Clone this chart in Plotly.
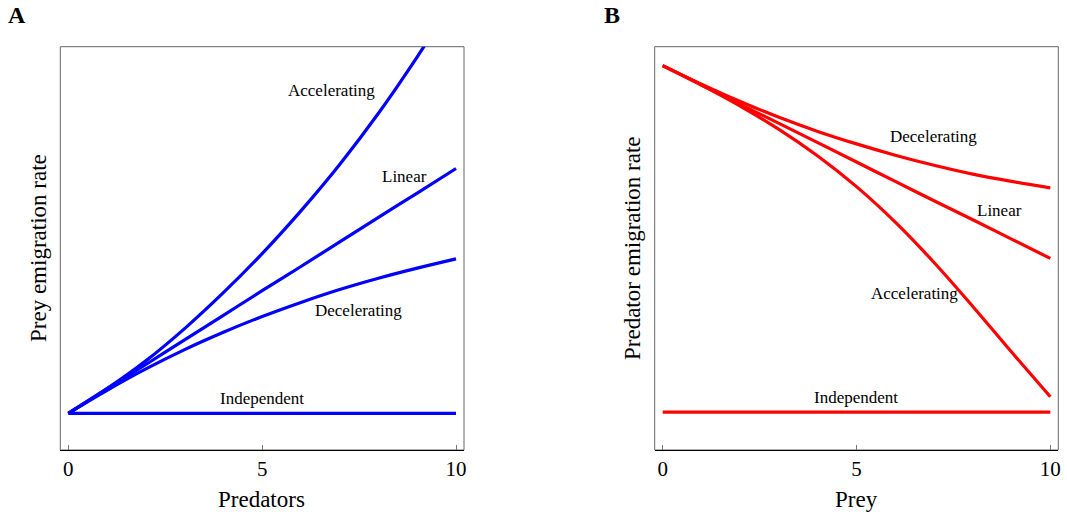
import plotly.graph_objects as go

# ---- data ----
x_vals = [0, 1, 2, 3, 4, 5, 6, 7, 8, 9, 10]

prey_accelerating = [0.91, 1.52, 2.21, 3.01, 3.90, 4.87, 5.93, 7.08, 8.35, 9.75, 11.25]
prey_linear = [0.91, 1.52, 2.12, 2.73, 3.34, 3.95, 4.55, 5.16, 5.77, 6.37, 6.98]
prey_decelerating = [0.91, 1.48, 2.01, 2.49, 2.92, 3.31, 3.66, 3.98, 4.26, 4.51, 4.74]
prey_independent = [0.91, 0.91, 0.91, 0.91, 0.91, 0.91, 0.91, 0.91, 0.91, 0.91, 0.91]

pred_decelerating = [9.53, 9.07, 8.64, 8.25, 7.90, 7.59, 7.31, 7.06, 6.84, 6.66, 6.50]
pred_linear = [9.53, 9.05, 8.57, 8.10, 7.62, 7.14, 6.66, 6.18, 5.71, 5.23, 4.75]
pred_accelerating = [9.53, 9.05, 8.53, 7.95, 7.29, 6.53, 5.65, 4.65, 3.56, 2.43, 1.32]
pred_independent = [0.94, 0.94, 0.94, 0.94, 0.94, 0.94, 0.94, 0.94, 0.94, 0.94, 0.94]

x_ticks = [0, 5, 10]
x_tick_labels = ["0", "5", "10"]

# curve labels: (text, x, y)
labels_a = [("Accelerating", 6.79, 8.91), ("Linear", 8.68, 6.78),
            ("Decelerating", 7.49, 3.45), ("Independent", 4.99, 1.27)]
labels_b = [("Decelerating", 6.99, 7.77), ("Linear", 8.69, 5.93),
            ("Accelerating", 6.49, 3.89), ("Independent", 4.99, 1.31)]

BLUE = "#0000FF"
RED = "#FF0000"
FONT = "Liberation Serif"

fig = go.Figure()

for ys in [prey_accelerating, prey_linear, prey_decelerating, prey_independent]:
    fig.add_trace(go.Scatter(x=x_vals, y=ys, mode="lines", xaxis="x", yaxis="y",
                             line=dict(color=BLUE, width=3.2, shape="spline"),
                             showlegend=False, hoverinfo="skip"))
for ys in [pred_decelerating, pred_linear, pred_accelerating, pred_independent]:
    fig.add_trace(go.Scatter(x=x_vals, y=ys, mode="lines", xaxis="x2", yaxis="y2",
                             line=dict(color=RED, width=3.2, shape="spline"),
                             showlegend=False, hoverinfo="skip"))

W, H = 1067, 514


def px(xr):
    return xr / W


def py(yr):
    return 1 - yr / H


dom_x1 = [px(60.3), px(464.0)]
dom_x2 = [px(654.7), px(1058.3)]
dom_y = [py(450.0), py(46.7)]

xcommon = dict(range=[-0.206, 10.206], tickvals=x_ticks, ticktext=x_tick_labels,
               ticks="inside", ticklen=5, tickcolor="#777777", tickwidth=1,
               showline=True, linecolor="black", linewidth=1, mirror=False,
               showgrid=False, zeroline=False, automargin=False,
               ticklabeloverflow="allow",
               tickfont=dict(family=FONT, size=21, color="black"))
ycommon = dict(range=[0, 10], showticklabels=False, ticks="", showline=False,
               showgrid=False, zeroline=False, automargin=False)

label_font = dict(family=FONT, size=17, color="black")
annotations = []
for txt, lx, ly in labels_a:
    annotations.append(dict(text=txt, x=lx, y=ly, xref="x", yref="y", showarrow=False,
                            xanchor="center", yanchor="middle", font=label_font))
for txt, lx, ly in labels_b:
    annotations.append(dict(text=txt, x=lx, y=ly, xref="x2", yref="y2", showarrow=False,
                            xanchor="center", yanchor="middle", font=label_font))

title_font = dict(family=FONT, size=23, color="black")
letter_font = dict(family=FONT, size=24, color="black")
annotations += [
    dict(text="Predators", x=px(261.7), y=py(499), font=title_font),
    dict(text="Prey", x=px(856.3), y=py(499), font=title_font),
    dict(text="Prey emigration rate", x=px(38), y=py(248), textangle=-90, font=title_font),
    dict(text="Predator emigration rate", x=px(632), y=py(248), textangle=-90, font=title_font),
    dict(text="<b>A</b>", x=px(16.5), y=py(15), font=letter_font),
    dict(text="<b>B</b>", x=px(611.5), y=py(15), font=letter_font),
]
for a in annotations[-6:]:
    a.update(xref="paper", yref="paper", showarrow=False, xanchor="center", yanchor="middle")

shapes = [
    dict(type="rect", xref="x domain", yref="y domain", x0=0, x1=1, y0=0, y1=1,
         line=dict(color="#666666", width=1), layer="below"),
    dict(type="rect", xref="x2 domain", yref="y2 domain", x0=0, x1=1, y0=0, y1=1,
         line=dict(color="#666666", width=1), layer="below"),
]

fig.update_layout(
    width=W, height=H,
    margin=dict(l=0, r=0, t=0, b=0),
    paper_bgcolor="white", plot_bgcolor="white",
    xaxis=dict(domain=dom_x1, anchor="y", **xcommon),
    yaxis=dict(domain=dom_y, anchor="x", **ycommon),
    xaxis2=dict(domain=dom_x2, anchor="y2", **xcommon),
    yaxis2=dict(domain=dom_y, anchor="x2", **ycommon),
    annotations=annotations,
    shapes=shapes,
    font=dict(family=FONT),
)

# remove the browser's default 8px page margin so the figure fills the window exactly
fig.write_html("out.html", config={"displayModeBar": False},
               post_script="document.body.style.margin='0';document.body.style.overflow='hidden';")
